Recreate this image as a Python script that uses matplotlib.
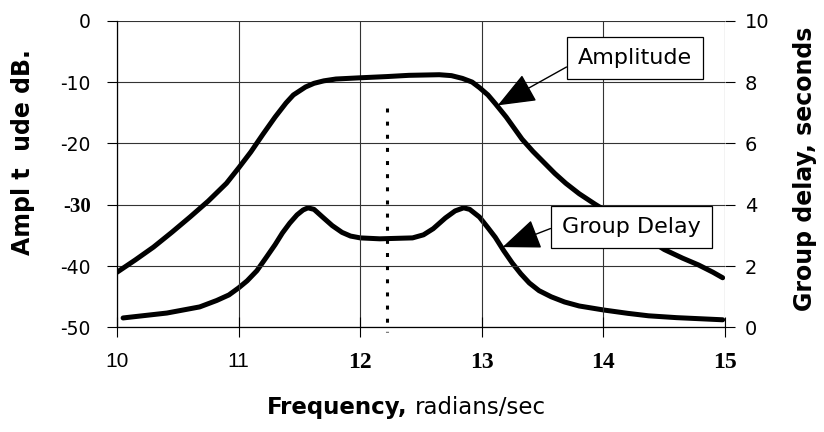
import matplotlib.pyplot as plt
import numpy as np

# amplitude response, dB (left axis)
amp_freq = [10.0, 10.15, 10.3, 10.45, 10.6, 10.75, 10.9, 11.0, 11.1, 11.2, 11.3, 11.39, 11.45,
            11.55, 11.62, 11.7, 11.8, 12.0, 12.22, 12.4, 12.65, 12.75, 12.84, 12.92, 12.98,
            13.05, 13.11, 13.2, 13.33, 13.42, 13.52, 13.6, 13.69, 13.8, 13.93, 14.1, 14.3,
            14.5, 14.65, 14.78, 14.9, 14.98]
amp_db = [-41.0, -39.0, -36.9, -34.5, -32.0, -29.4, -26.5, -24.0, -21.4, -18.5, -15.7, -13.4, -12.1,
          -10.8, -10.2, -9.8, -9.5, -9.3, -9.1, -8.9, -8.8, -8.95, -9.4, -10.0, -10.9,
          -12.1, -13.5, -15.7, -19.3, -21.3, -23.3, -24.9, -26.5, -28.2, -29.9, -32.0, -34.8,
          -37.3, -38.7, -39.8, -41.0, -41.9]

# group delay, seconds (right axis)
gd_freq = [10.05, 10.41, 10.68, 10.82, 10.92, 11.0, 11.07, 11.15, 11.23, 11.3, 11.36, 11.42,
           11.48, 11.53, 11.57, 11.62, 11.69, 11.77, 11.85, 11.92, 12.0, 12.16, 12.43, 12.52,
           12.6, 12.7, 12.78, 12.85, 12.9, 12.98, 13.05, 13.11, 13.18, 13.25, 13.32, 13.39,
           13.47, 13.57, 13.68, 13.8, 14.0, 14.2, 14.37, 14.6, 14.98]
gd_sec = [0.31, 0.47, 0.67, 0.88, 1.06, 1.29, 1.52, 1.85, 2.3, 2.7, 3.08, 3.4,
          3.67, 3.83, 3.9, 3.85, 3.6, 3.32, 3.1, 2.98, 2.92, 2.89, 2.92, 3.02,
          3.22, 3.57, 3.8, 3.9, 3.85, 3.6, 3.25, 2.94, 2.5, 2.1, 1.75, 1.45,
          1.2, 1.0, 0.83, 0.7, 0.57, 0.46, 0.38, 0.32, 0.25]

marker_freq = 12.22
x_ticks = [10, 11, 12, 13, 14, 15]
x_labels = ["10", "11", "12", "13", "14", "15"]
left_ticks = [0, -10, -20, -30, -40, -50]
left_labels = ["0", "-10", "-20", "-30", "-40", "-50"]
right_ticks = [0, 2, 4, 6, 8, 10]

sans = "DejaVu Sans"
serif = "Liberation Serif"

fig = plt.figure(figsize=(8.24, 4.32), dpi=100)
ax = fig.add_axes([0.142, 0.242, 0.738, 0.710])
ax2 = ax.twinx()

ax.plot(amp_freq, amp_db, color="black", lw=3.6, solid_capstyle="round",
        solid_joinstyle="round", zorder=3)
ax2.plot(gd_freq, gd_sec, color="black", lw=3.6, solid_capstyle="round",
         solid_joinstyle="round", zorder=3)
ax.plot([marker_freq, marker_freq], [-14.3, -50.8], color="black", lw=2.2,
        linestyle=(0, (1.3, 3.0)), clip_on=False, zorder=2)

ax.set_xlim(10, 15)
ax.set_ylim(-50, 0)
ax2.set_ylim(0, 10)

ax.set_xticks(x_ticks)
ax.set_yticks(left_ticks)
ax2.set_yticks(right_ticks)
ax.set_xticklabels(x_labels)
ax.set_yticklabels(left_labels)
ax2.set_yticklabels([str(v) for v in right_ticks], fontfamily=sans, fontsize=14)

for lab in ax.get_xticklabels():
    if lab.get_text() in ("10", "11"):
        lab.set_fontfamily("Liberation Sans")
        lab.set_fontsize(15)
    else:
        lab.set_fontfamily(serif)
        lab.set_fontweight("bold")
        lab.set_fontsize(17)
for lab in ax.get_yticklabels():
    if lab.get_text() == "-30":
        lab.set_fontfamily(serif)
        lab.set_fontweight("bold")
        lab.set_fontsize(15)
    else:
        lab.set_fontfamily(sans)
        lab.set_fontsize(13.5)

ax.tick_params(axis="x", direction="inout", length=14, width=0.8, pad=11)
ax.tick_params(axis="y", direction="out", length=7, width=0.8, pad=12)
ax2.tick_params(axis="y", direction="out", length=7, width=0.8, pad=7)

ax.grid(True, color="#333333", lw=0.8)
for a in (ax, ax2):
    for s in ("top", "right"):
        a.spines[s].set_visible(False)
ax2.spines["left"].set_visible(False)
ax2.spines["bottom"].set_visible(False)
ax.spines["left"].set_linewidth(0.9)
ax.spines["bottom"].set_linewidth(0.9)

ax.set_zorder(ax2.get_zorder() + 1)
ax.patch.set_visible(False)

box = dict(boxstyle="square,pad=0.5", fc="white", ec="black", lw=0.9)
arrow = dict(arrowstyle="-|>,head_length=1.5,head_width=0.6", fc="black", ec="black",
             lw=1.0, shrinkA=0, shrinkB=0)
ax.annotate("Amplitude", xy=(13.13, -13.8), xytext=(14.26, -6.1),
            fontsize=16, fontfamily=sans, ha="center", va="center", bbox=box,
            arrowprops=dict(arrow, relpos=(0, 0.38)), zorder=5)
ax.annotate("Group Delay", xy=(13.17, -50 + 2.62 * 5), xytext=(14.23, -33.6),
            fontsize=16, fontfamily=sans, ha="center", va="center", bbox=box,
            arrowprops=dict(arrow, relpos=(0, 0.64)), zorder=5)

fig.text(0.028, 0.648, "Ampl t  ude dB.", rotation=90, ha="center", va="center",
         fontsize=17, fontweight="bold", fontfamily=sans)
fig.text(0.977, 0.609, "Group delay, seconds", rotation=90, ha="center", va="center",
         fontsize=17, fontweight="bold", fontfamily=sans)
fig.text(0.495, 0.056, "Frequency,", ha="right", va="center",
         fontsize=16.5, fontweight="bold", fontfamily=sans)
fig.text(0.503, 0.056, "radians/sec", ha="left", va="center",
         fontsize=16.5, fontfamily=sans)

fig.savefig("out.png", dpi=100)
